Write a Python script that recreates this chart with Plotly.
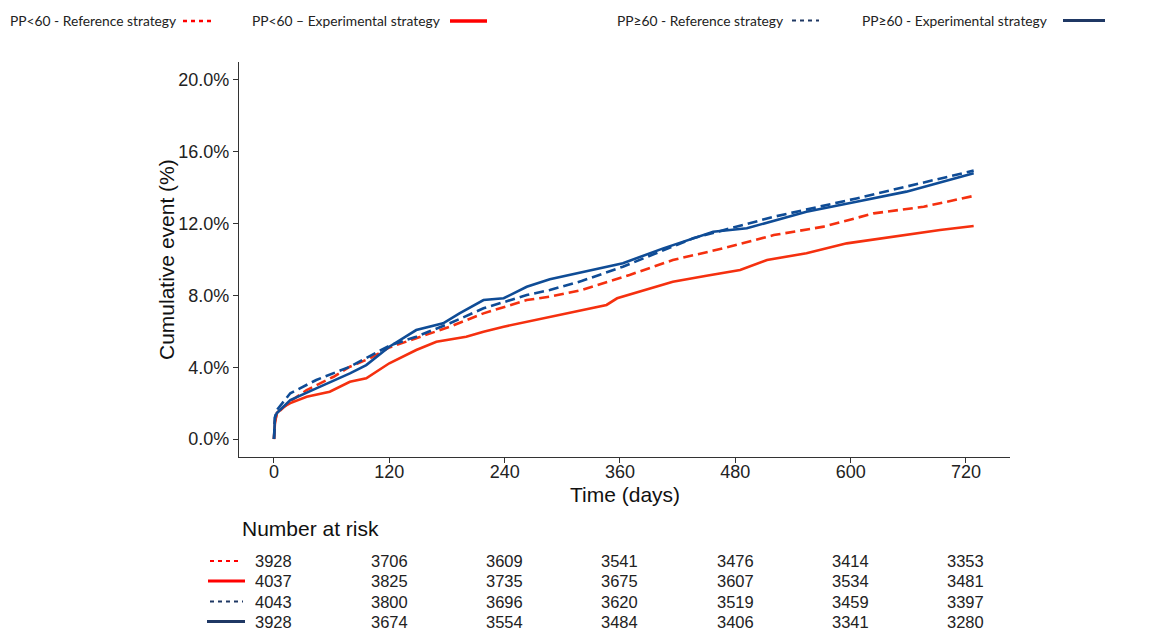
import plotly.graph_objects as go

# ---------------- data ----------------
ref_lt60_t = [0, 1, 3, 17, 34, 62, 79, 100, 120, 148, 183, 218, 263, 287, 320, 370, 415, 467, 520, 572, 624, 676, 728]
ref_lt60_v = [0, 1.0, 1.43, 2.1, 2.73, 3.47, 4.03, 4.5, 5.1, 5.6, 6.26, 7.0, 7.74, 7.93, 8.3, 9.14, 9.97, 10.62, 11.36, 11.83, 12.57, 12.94, 13.54]

exp_lt60_t = [0, 1, 3, 10, 17, 34, 58, 79, 96, 120, 148, 169, 200, 218, 239, 263, 287, 320, 346, 357, 380, 415, 450, 485, 513, 554, 596, 644, 693, 728]
exp_lt60_v = [0, 0.9, 1.45, 1.8, 2.0, 2.36, 2.64, 3.19, 3.38, 4.22, 4.96, 5.42, 5.70, 5.98, 6.26, 6.53, 6.8, 7.2, 7.47, 7.84, 8.2, 8.76, 9.1, 9.42, 9.97, 10.35, 10.9, 11.27, 11.64, 11.87]

ref_ge60_t = [0, 1, 3, 17, 44, 79, 120, 148, 183, 218, 263, 287, 320, 363, 436, 520, 606, 728]
ref_ge60_v = [0, 1.2, 1.62, 2.55, 3.29, 4.03, 5.2, 5.7, 6.45, 7.28, 8.02, 8.3, 8.8, 9.6, 11.18, 12.38, 13.4, 14.95]

exp_ge60_t = [0, 1, 3, 17, 44, 79, 96, 120, 148, 176, 193, 218, 239, 263, 287, 320, 363, 405, 457, 492, 554, 606, 658, 728]
exp_ge60_v = [0, 1.2, 1.45, 2.17, 2.82, 3.66, 4.12, 5.14, 6.07, 6.45, 7.0, 7.74, 7.84, 8.48, 8.9, 9.3, 9.79, 10.62, 11.55, 11.74, 12.66, 13.22, 13.78, 14.8]

x_ticks = [0, 120, 240, 360, 480, 600, 720]
y_ticks = [0, 4, 8, 12, 16, 20]

legend_labels = ["PP<60 - Reference strategy", "PP<60 \u2013 Experimental strategy",
                 "PP\u226560 - Reference strategy", "PP\u226560 - Experimental strategy"]

risk_ref_lt60 = [3928, 3706, 3609, 3541, 3476, 3414, 3353]
risk_exp_lt60 = [4037, 3825, 3735, 3675, 3607, 3534, 3481]
risk_ref_ge60 = [4043, 3800, 3696, 3620, 3519, 3459, 3397]
risk_exp_ge60 = [3928, 3674, 3554, 3484, 3406, 3341, 3280]

# ---------------- styling ----------------
W, H = 1168, 633
L, R, T, B = 239, 1010, 62, 457   # plot area in pixels
RED = "#F5300F"
BLUE = "#0F4C96"
LEG_RED = "#FF0000"
LEG_NAVY = "#1F3864"
DASH = "10px,5px"

def px(x):
    return (x - L) / (R - L)

def py(y):
    return (B - y) / (B - T)

fig = go.Figure()
series = [
    (ref_lt60_t, ref_lt60_v, RED, DASH, legend_labels[0]),
    (exp_lt60_t, exp_lt60_v, RED, "solid", legend_labels[1]),
    (ref_ge60_t, ref_ge60_v, BLUE, DASH, legend_labels[2]),
    (exp_ge60_t, exp_ge60_v, BLUE, "solid", legend_labels[3]),
]
for t, v, c, d, name in series:
    fig.add_trace(go.Scatter(x=t, y=v, mode="lines", name=name,
                             line=dict(color=c, width=2.6, dash=d),
                             showlegend=False, hoverinfo="skip"))

axis_font = dict(family="Liberation Sans, Arial, sans-serif", size=18, color="#222222")

fig.update_layout(
    width=W, height=H,
    margin=dict(l=L, r=W - R, t=T, b=H - B),
    paper_bgcolor="white", plot_bgcolor="white",
    xaxis=dict(range=[-36.4, 765.8], tickvals=x_ticks, ticktext=[str(v) for v in x_ticks],
               showgrid=False, zeroline=False, showline=True, linecolor="#333333", linewidth=1.3,
               ticks="outside", ticklen=5, tickcolor="#333333", tickwidth=1.3,
               ticklabelstandoff=-7, tickfont=axis_font),
    yaxis=dict(range=[-1.0, 21.0], tickvals=y_ticks, ticktext=[f"{v:.1f}%" for v in y_ticks],
               showgrid=False, zeroline=False, showline=True, linecolor="#333333", linewidth=1.3,
               ticks="outside", ticklen=5, tickcolor="#333333", tickwidth=1.3,
               tickfont=axis_font),
    showlegend=False,
)

ann = []
shapes = []
title_font = dict(family="Liberation Sans, Arial, sans-serif", size=21, color="#111111")
ann.append(dict(text="Time (days)", x=0.5, y=py(494), xref="paper", yref="paper",
                showarrow=False, font=title_font, xanchor="center", yanchor="middle"))
ann.append(dict(text="Cumulative event (%)", x=px(166), y=py(260), xref="paper", yref="paper",
                showarrow=False, font=title_font, textangle=-90, xanchor="center", yanchor="middle"))

# ---- top legend ----
leg_font = dict(family="Lato, sans-serif", size=13.8, color="#222222")
leg_items = [
    (8, 21, 183, 212, LEG_RED, "dot", 2.5),
    (250, 21, 450, 487, LEG_RED, "solid", 3.5),
    (615, 20.5, 792, 819, LEG_NAVY, "dot", 2.2),
    (860, 20.5, 1063, 1105, LEG_NAVY, "solid", 3.0),
]
for (tx, ty, x0, x1, c, d, w), lab in zip(leg_items, legend_labels):
    ann.append(dict(text=lab, x=px(tx), y=py(ty), xref="paper", yref="paper", showarrow=False,
                    font=leg_font, xanchor="left", yanchor="middle"))
    shapes.append(dict(type="line", xref="paper", yref="paper", x0=px(x0), x1=px(x1),
                       y0=py(ty), y1=py(ty), line=dict(color=c, width=w,
                       dash=("4px,4px" if d == "dot" else "solid"))))

# ---- number at risk table ----
ann.append(dict(text="Number at risk", x=px(240), y=py(528), xref="paper", yref="paper",
                showarrow=False, xanchor="left", yanchor="middle",
                font=dict(family="Liberation Sans, Arial, sans-serif", size=21, color="#111111")))
risk_rows = [
    (risk_ref_lt60, 561, LEG_RED, "dot", 1.8, 210, 242),
    (risk_exp_lt60, 581, LEG_RED, "solid", 3.0, 208, 245),
    (risk_ref_ge60, 601.5, LEG_NAVY, "dot", 1.8, 210, 243),
    (risk_exp_ge60, 621.5, LEG_NAVY, "solid", 3.0, 207, 245),
]
risk_font = dict(family="Liberation Sans, Arial, sans-serif", size=16.5, color="#222222")
for vals, ry, c, d, w, x0, x1 in risk_rows:
    for t, v in zip(x_ticks, vals):
        ann.append(dict(text=str(v), x=t, y=py(ry), xref="x", yref="paper", showarrow=False,
                        xanchor="center", yanchor="middle", font=risk_font))
    shapes.append(dict(type="line", xref="paper", yref="paper", x0=px(x0), x1=px(x1),
                       y0=py(ry), y1=py(ry), line=dict(color=c, width=w,
                       dash=("4px,4px" if d == "dot" else "solid"))))

fig.update_layout(annotations=ann, shapes=shapes)
fig.write_html("out.html", config={"displayModeBar": False},
               post_script="document.body.style.margin='0px';document.body.style.padding='0px';")
